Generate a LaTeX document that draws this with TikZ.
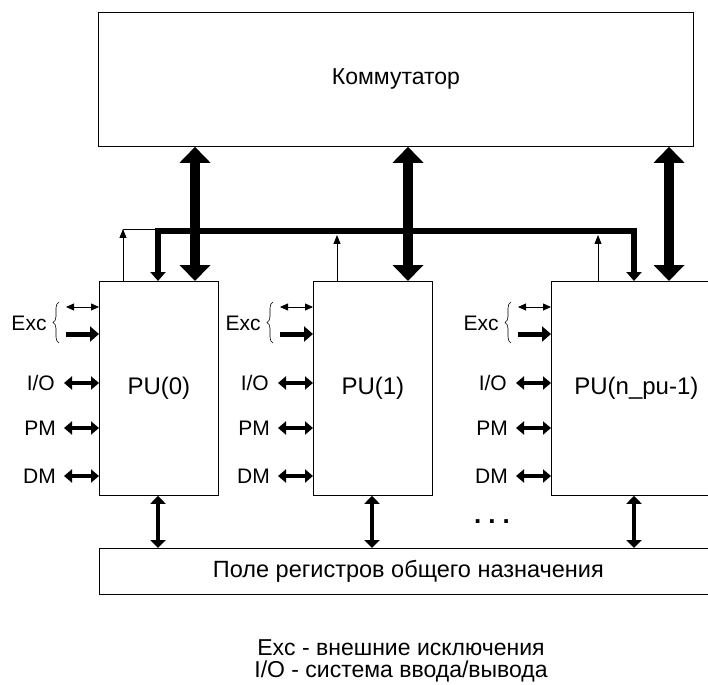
\documentclass[tikz,border=0pt]{standalone}
\usepackage{fontspec}
\setmainfont{Liberation Sans}
\usetikzlibrary{arrows.meta,decorations.pathreplacing,calc}
\tikzset{
  box/.style={draw, line width=0.8pt, inner sep=0pt, font=\fontsize{24}{28}\selectfont},
  lbl/.style={inner sep=0pt, font=\fontsize{21}{25}\selectfont},
  legend/.style={inner sep=0pt, font=\fontsize{23}{27}\selectfont},
  thinboth/.style={line width=0.8pt, {Triangle[width=7pt,length=8pt]}-{Triangle[width=7pt,length=8pt]}},
  thickone/.style={line width=5pt, -{Triangle[width=15pt,length=9pt]}},
  medboth/.style={line width=4pt, {Triangle[width=13pt,length=8pt]}-{Triangle[width=13pt,length=8pt]}},
  bigboth/.style={line width=10pt, {Triangle[width=30pt,length=16pt]}-{Triangle[width=30pt,length=16pt]}},
  busline/.style={line width=6pt, line join=miter, {Triangle[width=15pt,length=9pt]}-{Triangle[width=15pt,length=9pt]}},
  thinup/.style={line width=0.8pt, -{Triangle[width=7pt,length=9pt]}},
  regboth/.style={line width=3.5pt, {Triangle[width=15pt,length=8pt]}-{Triangle[width=15pt,length=8pt]}},
  bracestyle/.style={line width=0.6pt, decorate, decoration={brace, amplitude=6pt}}
}
\begin{document}
\begin{tikzpicture}[x=1pt,y=-1pt]
\useasboundingbox (0,0) rectangle (708,684);
% boxes
\node[box, anchor=north west, minimum width=595pt, minimum height=134pt, font=\fontsize{23}{27}\selectfont] (kom) at (98,12) {Коммутатор};
\node[box, anchor=north west, minimum width=119pt, minimum height=214pt] (pu0) at (99,281) {PU(0)};
\node[box, anchor=north west, minimum width=119pt, minimum height=214pt] (pu1) at (313,281) {PU(1)};
\node[box, anchor=north west, minimum width=170pt, minimum height=214pt] (pun) at (551,281) {PU(n\_pu-1)};
\node[box, anchor=north west, minimum width=618pt, minimum height=46pt, font=\fontsize{23.5}{27}\selectfont] (reg) at (99,548) {Поле регистров общего назначения};
% x positions
\coordinate (xk0) at (195,0);
\coordinate (xk1) at (408,0);
\coordinate (xk2) at (669,0);
\coordinate (xb0) at (158,0);
\coordinate (xb1) at (372,0);
\coordinate (xb2) at (634,0);
\coordinate (xt0) at (123,0);
\coordinate (xt1) at (337,0);
\coordinate (xt2) at (598,0);
\coordinate (busy) at (0,231);
\coordinate (thiny) at (0,229);
\coordinate (busbot) at (0,235);
% internal bus
\draw[busline] (pu0.north -| xb0) -- (busy -| xb0) -- (busy -| xb2) -- (pu0.north -| xb2);
% thin arrows from PUs to the bus
\coordinate (c0) at (thiny -| xt0);
\draw[thinup] (pu0.north -| xt0) -- (c0);
\draw[line width=0.8pt] (c0) -- (thiny -| xb0);
\draw[thinup] (pu1.north -| xt1) -- (busbot -| xt1);
\draw[thinup] (pun.north -| xt2) -- (busbot -| xt2);
% commutator links
\draw[bigboth] (kom.south -| xk0) -- (pu0.north -| xk0);
\draw[bigboth] (kom.south -| xk1) -- (pu1.north -| xk1);
\draw[bigboth] (kom.south -| xk2) -- (pun.north -| xk2);
% register links
\draw[regboth] (pu0.south -| xb0) -- (reg.north -| xb0);
\draw[regboth] (pu1.south -| xb1) -- (reg.north -| xb1);
\draw[regboth] (pun.south -| xb2) -- (reg.north -| xb2);
% side inputs
\foreach \n in {pu0,pu1,pun} {
  \draw[thinboth] ($(\n.north west)+(-33,26)$) -- ($(\n.north west)+(0,26)$);
  \draw[thickone] ($(\n.north west)+(-33,53)$) -- ($(\n.north west)+(0,53)$);
  \draw[medboth] ($(\n.north west)+(-35,102)$) -- ($(\n.north west)+(0,102)$);
  \draw[medboth] ($(\n.north west)+(-35,147)$) -- ($(\n.north west)+(0,147)$);
  \draw[medboth] ($(\n.north west)+(-35,195)$) -- ($(\n.north west)+(0,195)$);
  \draw[bracestyle] ($(\n.north west)+(-40,62)$) -- ($(\n.north west)+(-40,21)$);
  \node[lbl] (exc\n) at ($(\n.north west)+(-70,42)$) {Exc};
  \node[lbl, anchor=east] (io\n) at ($(\n.north west)+(-44,102)$) {I/O};
  \node[lbl, anchor=east] (pm\n) at ($(\n.north west)+(-43,147)$) {PM};
  \node[lbl, anchor=east] (dm\n) at ($(\n.north west)+(-43,195)$) {DM};
}
% dots
\node[inner sep=0pt, font=\fontsize{26}{30}\selectfont\bfseries] (dots) at (492,522) {.\hspace{7pt}.\hspace{7pt}.};
% legend
\node[legend] (leg1) at (401,648) {Exc - внешние исключения};
\node[legend] (leg2) at (401,671) {I/O - система ввода/вывода};
\end{tikzpicture}
\end{document}
